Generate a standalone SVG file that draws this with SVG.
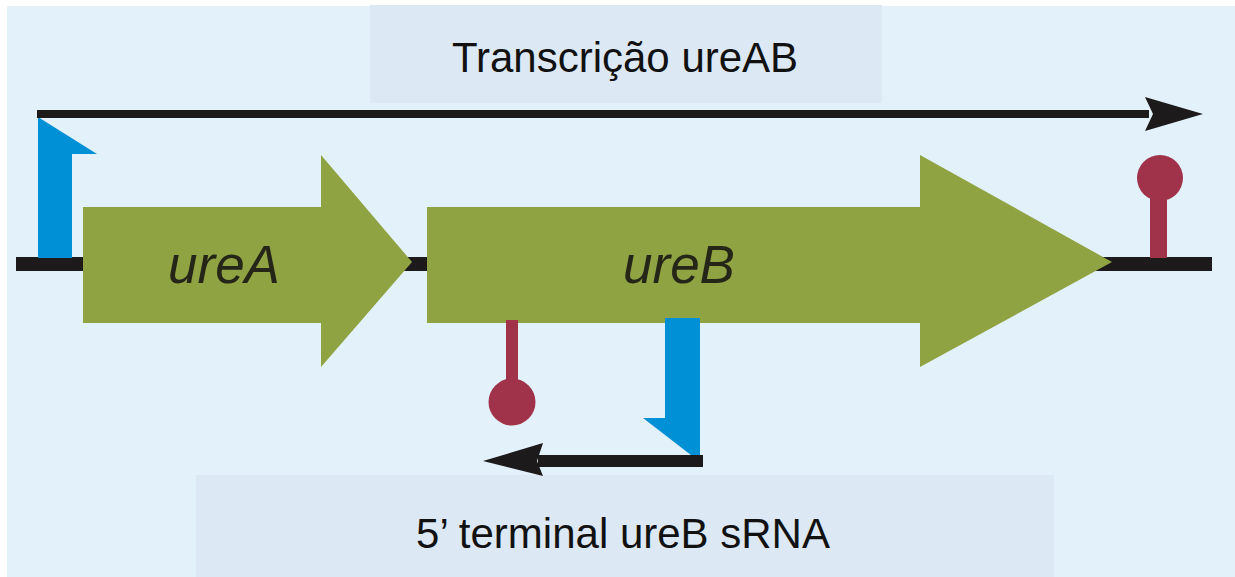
<svg xmlns="http://www.w3.org/2000/svg" width="1235" height="577" viewBox="0 0 1235 577">
  <style>
    .panel { fill: #e3f1fb; }
    .label-box { fill: #dce8f4; }
    .label { font-family: "Liberation Sans", Arial, sans-serif; fill: #111111; text-anchor: middle; }
    .gene { fill: #8fa343; }
    .gene-text { font-family: "Liberation Sans", Arial, sans-serif; font-style: italic; fill: #262618; text-anchor: middle; font-size: 53px; }
    .promoter { fill: #0090d6; }
    .term { fill: #a0334a; }
    .dna { fill: #1c1a1a; }
  </style>
  <rect x="0" y="0" width="1235" height="577" fill="#ffffff"/>
  <rect class="panel" x="7" y="6" width="1228" height="571"/>

  <g id="label-transcricao">
    <rect class="label-box" x="370" y="5" width="512" height="98"/>
    <text class="label" x="625" y="72" font-size="42">Transcrição ureAB</text>
  </g>

  <g id="label-srna">
    <rect class="label-box" x="196" y="475" width="858" height="102"/>
    <text class="label" x="623" y="548" font-size="42">5’ terminal ureB sRNA</text>
  </g>

  <g id="dna">
    <rect class="dna" x="16" y="257" width="1196" height="14"/>
  </g>

  <g id="promoter-ureAB">
    <polygon class="promoter" points="38,117 97,154 72,154 72,258 38,258"/>
  </g>

  <g id="ureA">
    <polygon class="gene" points="83,207 321,207 321,155 412,262 321,367 321,323 83,323"/>
    <text class="gene-text" x="224" y="283">ureA</text>
  </g>

  <g id="ureB">
    <polygon class="gene" points="427,207 920,207 920,155 1112,262 920,367 920,323 427,323"/>
    <text class="gene-text" x="679" y="283">ureB</text>
  </g>

  <g id="terminator-ureAB">
    <rect class="term" x="1150" y="178" width="17" height="80"/>
    <circle class="term" cx="1160" cy="178" r="23"/>
  </g>

  <g id="terminator-srna">
    <rect class="term" x="506" y="320" width="12" height="82"/>
    <circle class="term" cx="512" cy="402" r="23.5"/>
  </g>

  <g id="promoter-srna">
    <polygon class="promoter" points="665,318 700,318 700,462 643,418 665,418"/>
  </g>

  <g id="connectors">
    <rect class="dna" x="37" y="110" width="1112" height="8"/>
    <polygon class="dna" points="1145,97 1203,114 1145,131 1153,114"/>
    <rect class="dna" x="538" y="455" width="165" height="12"/>
    <polygon class="dna" points="483,461 543,443 537,461 543,476"/>
  </g>
</svg>
